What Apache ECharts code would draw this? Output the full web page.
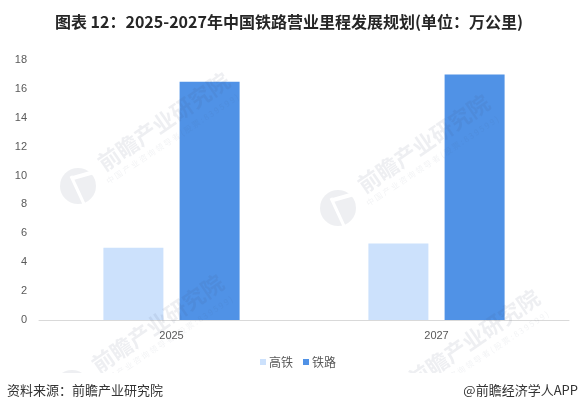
<!DOCTYPE html>
<html>
<head>
<meta charset="utf-8">
<style>
html,body{margin:0;padding:0;background:#fff;}
#main{width:578px;height:412px;}
</style>
<script src="https://cdn.jsdelivr.net/npm/echarts@6/dist/echarts.min.js"></script>
</head>
<body>
<div id="main"></div>
<script>
var years = ['2025', '2027'];
var gaotie = [5, 5.3];
var tielu = [16.5, 17];
var yMax = 18;
var yStep = 2;

var cjk = '"Noto Sans CJK SC", sans-serif';
var markFill = 'rgba(70,80,110,0.09)';

// watermark: logo circle + rotated company name + small line, sits over the bars
function watermark(x, y){
	return [
		{type:'circle', silent:true, z:50, shape:{cx:x, cy:y, r:18}, style:{fill:markFill}},
		{type:'line', silent:true, z:51, shape:{x1:x-7, y1:y-10, x2:x+6, y2:y+18}, style:{stroke:'#fff', lineWidth:3}},
		{type:'line', silent:true, z:51, shape:{x1:x-5, y1:y-8, x2:x+16, y2:y-14}, style:{stroke:'#fff', lineWidth:4}},
		{type:'text', silent:true, z:50, x:x+22, y:y-21, rotation:0.6, style:{
			text:'前瞻产业研究院', fill:markFill, font:'bold 22px ' + cjk, textVerticalAlign:'middle'
		}},
		{type:'text', silent:true, z:50, x:x+29, y:y-4, rotation:0.58, style:{
			text:'中 国 产 业 咨 询 领 导 者 ( 股 票 : 8 3 9 5 9 9 )', fill:'rgba(70,80,110,0.07)', font:'8px ' + cjk, textVerticalAlign:'middle'
		}}
	];
}

// white band over the bottom watermarks, then the two footer texts
var footer = [
	{type:'rect', silent:true, z:60, shape:{x:0, y:373, width:578, height:39}, style:{fill:'#fff'}},
	{type:'text', silent:true, z:61, x:7, y:390, style:{
		text:'资料来源：前瞻产业研究院', fill:'#333', font:'13px ' + cjk, textVerticalAlign:'middle'
	}},
	{type:'text', silent:true, z:61, x:578, y:390, style:{
		text:'@前瞻经济学人APP', fill:'#333', font:'13px ' + cjk, textAlign:'right', textVerticalAlign:'middle'
	}}
];

var chart = echarts.init(document.getElementById('main'));
chart.setOption({
	animation:false,
	backgroundColor:'#fff',
	title:{
		text:'图表 12：2025-2027年中国铁路营业里程发展规划(单位：万公里)',
		left:'center',
		top:9,
		textStyle:{fontFamily:cjk, fontSize:16, fontWeight:'bold', color:'#262626'}
	},
	graphic:[].concat(watermark(78,186), watermark(338,208), watermark(72,388), watermark(388,403), footer),
	legend:{
		data:['高铁','铁路'],
		top:356,
		left:260,
		padding:0,
		itemWidth:6,
		itemHeight:6,
		itemGap:10,
		icon:'rect',
		textStyle:{fontFamily:cjk, fontSize:12, color:'#595959', padding:[0,0,0,-2]}
	},
	grid:{left:39, right:9, top:60, bottom:92},
	xAxis:{
		type:'category',
		data:years,
		axisTick:{show:false},
		axisLine:{lineStyle:{color:'#d9d9d9'}},
		axisLabel:{color:'#595959', fontSize:11, fontFamily:'"Liberation Sans", sans-serif', margin:10}
	},
	yAxis:{
		type:'value',
		min:0,
		max:yMax,
		interval:yStep,
		axisLine:{show:false},
		axisTick:{show:false},
		splitLine:{show:false},
		axisLabel:{color:'#595959', fontSize:11, fontFamily:'"Liberation Sans", sans-serif', margin:12, padding:[2,0,0,0]}
	},
	series:[
		{name:'高铁', type:'bar', data:gaotie, barWidth:60, barGap:'27%', itemStyle:{color:'#cce1fc'}},
		{name:'铁路', type:'bar', data:tielu, barWidth:60, itemStyle:{color:'#5092e6'}}
	]
});
</script>
</body>
</html>
